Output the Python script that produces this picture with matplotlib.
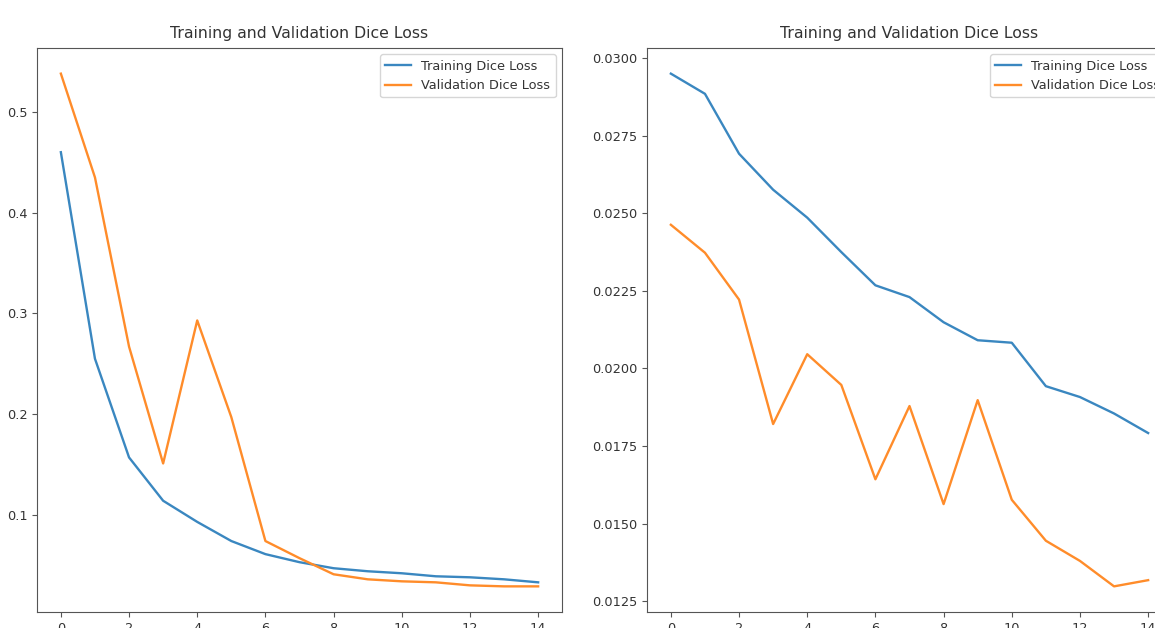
import numpy as np
import matplotlib.pyplot as plt

epochs = np.arange(15)

# левый график - полное обучение
train_loss_1 = [0.460, 0.255, 0.157, 0.114, 0.093, 0.074, 0.061, 0.053,
                0.047, 0.044, 0.042, 0.039, 0.038, 0.036, 0.033]
val_loss_1 = [0.538, 0.435, 0.267, 0.151, 0.293, 0.197, 0.074, 0.057,
              0.041, 0.036, 0.034, 0.033, 0.030, 0.029, 0.029]

# правый график - дообучение
train_loss_2 = [0.02950, 0.02885, 0.02692, 0.02576, 0.02486, 0.02375, 0.02268, 0.02230,
                0.02149, 0.02091, 0.02083, 0.01943, 0.01908, 0.01855, 0.01792]
val_loss_2 = [0.02463, 0.02373, 0.02222, 0.01821, 0.02046, 0.01947, 0.01643, 0.01879,
              0.01563, 0.01898, 0.01577, 0.01445, 0.01380, 0.01298, 0.01318]

W, H = 1155, 628
fig = plt.figure(figsize=(W / 100, H / 100), dpi=100)

ax1 = fig.add_axes([37 / W, (H - 612) / H, 525 / W, 564 / H])
ax2 = fig.add_axes([647 / W, (H - 612) / H, 525 / W, 564 / H])

for ax, tr, va in [(ax1, train_loss_1, val_loss_1), (ax2, train_loss_2, val_loss_2)]:
    ax.plot(epochs, tr, color='#3a87c0', lw=1.7, label='Training Dice Loss')
    ax.plot(epochs, va, color='#ff8c2a', lw=1.7, label='Validation Dice Loss')
    ax.set_title('Training and Validation Dice Loss', fontsize=11.3, color='#333333', pad=7)
    ax.legend(loc='upper right', fontsize=9.3, labelcolor='#333333')
    ax.tick_params(labelsize=9.3, labelcolor='#333333', color='#555555')
    for s in ax.spines.values():
        s.set_color('#555555')

ax1.set_xticks(range(0, 15, 2))
ax2.set_xticks(range(0, 15, 2))
ax2.set_yticks([0.0125, 0.0150, 0.0175, 0.0200, 0.0225, 0.0250, 0.0275, 0.0300])
ax2.set_yticklabels(['%.4f' % v for v in ax2.get_yticks()])

fig.savefig('out.png', dpi=100)
